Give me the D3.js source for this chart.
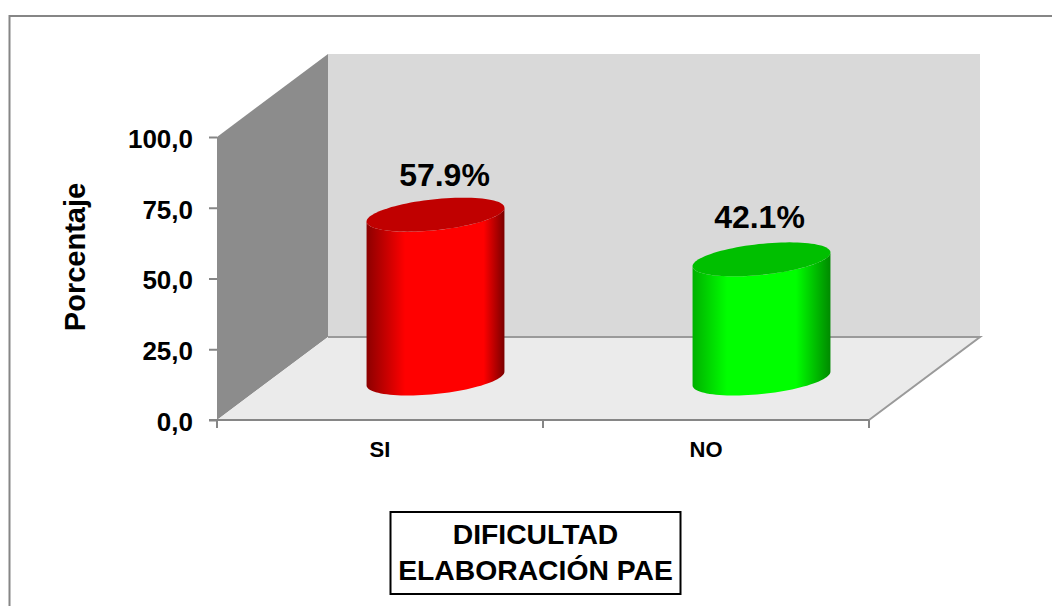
<!DOCTYPE html>
<html>
<head>
<meta charset="utf-8">
<title>Dificultad elaboración PAE</title>
<script src="https://d3js.org/d3.v7.min.js"></script>
<style>
	body { margin: 0; background: #fff; }
	text { font-family: "Liberation Sans", Arial, sans-serif; font-weight: bold; fill: #000; }
</style>
</head>
<body>
<svg id="chart" width="1052" height="606"></svg>
<script>
var categories = ["SI", "NO"];
var percentages = [57.9, 42.1];
var valueLabels = ["57.9%", "42.1%"];
var yTicks = [0, 25, 50, 75, 100];
var titleLines = ["DIFICULTAD", "ELABORACIÓN PAE"];

var svg = d3.select("#chart");

// plot box, front plane plus the 3d depth offset
var plotLeft = 217, plotRight = 869, plotTop = 137, plotBottom = 420;
var depthX = 111, depthY = 83;

var barColors = [
	{ edgeL: "#8c0000", stopL: 0.28, mid: "#ff0000", stopR: 0.85, edgeR: "#7a0000", cap: "#c00000" },
	{ edgeL: "#00b000", stopL: 0.25, mid: "#00ff00", stopR: 0.75, edgeR: "#008a00", cap: "#00bf00" }
];
// the data labels were placed by hand in the original, not centred on the bars
var labelShift = [[9, -29], [-2, -31]];

var x = d3.scaleBand().domain(categories).range([plotLeft, plotRight]);
var y = d3.scaleLinear().domain([0, 100]).range([plotBottom, plotTop]);
var line = d3.line();

// outer frame
svg.append("path")
	.attr("d", "M9.5,606V16H1052")
	.attr("fill", "none")
	.attr("stroke", "#868686")
	.attr("stroke-width", 2);

// walls and floor
svg.append("path")
	.attr("d", line([[plotLeft + depthX, plotTop - depthY], [plotRight + depthX, plotTop - depthY], [plotRight + depthX, plotBottom - depthY], [plotLeft + depthX, plotBottom - depthY]]) + "Z")
	.attr("fill", "#d9d9d9");
svg.append("path")
	.attr("d", line([[plotLeft, plotTop], [plotLeft + depthX, plotTop - depthY], [plotLeft + depthX, plotBottom - depthY], [plotLeft, plotBottom]]) + "Z")
	.attr("fill", "#8c8c8c");
svg.append("path")
	.attr("d", line([[plotLeft, plotBottom], [plotLeft + depthX, plotBottom - depthY], [plotRight + depthX, plotBottom - depthY], [plotRight, plotBottom]]) + "Z")
	.attr("fill", "#ebebeb");
svg.append("path")
	.attr("d", line([[plotLeft + depthX, plotBottom - depthY], [plotRight + depthX, plotBottom - depthY], [plotRight, plotBottom]]))
	.attr("fill", "none")
	.attr("stroke", "#9a9a9a")
	.attr("stroke-width", 2);

// axes
var yAxis = svg.append("g")
	.attr("transform", "translate(" + plotLeft + ",0)")
	.call(d3.axisLeft(y).tickValues(yTicks).tickSize(8).tickPadding(16).tickFormat(function(d) {
		return d3.format(".1f")(d).replace(".", ",");
	}));
var xAxis = svg.append("g")
	.attr("transform", "translate(0," + plotBottom + ")")
	.call(d3.axisBottom(x).tickSize(0).tickPadding(21));

xAxis.selectAll(".tick line").remove();
xAxis.selectAll(".tick-edge")
	.data(d3.range(categories.length + 1))
	.enter().append("line")
	.attr("x1", function(i) { return plotLeft + i * x.step(); })
	.attr("x2", function(i) { return plotLeft + i * x.step(); })
	.attr("y1", 0)
	.attr("y2", 8)
	.attr("stroke", "#868686")
	.attr("stroke-width", 2);

yAxis.select(".domain").attr("stroke", "#8c8c8c").attr("stroke-width", 1);
yAxis.selectAll(".tick line").attr("stroke", "#868686").attr("stroke-width", 2);
xAxis.select(".domain").attr("d", "M" + (plotLeft - 8) + ",0H" + plotRight).attr("stroke", "#868686").attr("stroke-width", 2);
yAxis.attr("font-family", null);
xAxis.attr("font-family", null);
yAxis.selectAll("text").attr("y", 2).style("font-size", "26px");
xAxis.selectAll("text").style("font-size", "22px");

// cylinders: a circle on the floor seen in oblique projection
var rx = 63, kx = 28, ky = 17;
var tangent = Math.atan2(kx, rx);

function ringPoint(cx, cy, t) {
	return [cx + rx * Math.cos(t) + kx * Math.sin(t), cy - ky * Math.sin(t)];
}

var defs = svg.append("defs");
barColors.forEach(function(c, i) {
	var g = defs.append("linearGradient").attr("id", "body" + i);
	g.append("stop").attr("offset", 0).attr("stop-color", c.edgeL);
	g.append("stop").attr("offset", c.stopL).attr("stop-color", c.mid);
	g.append("stop").attr("offset", c.stopR).attr("stop-color", c.mid);
	g.append("stop").attr("offset", 1).attr("stop-color", c.edgeR);
});

var bars = svg.selectAll(".bar")
	.data(percentages)
	.enter().append("g")
	.attr("class", "bar");

bars.append("path")
	.attr("fill", function(d, i) { return "url(#body" + i + ")"; })
	.attr("d", function(d, i) {
		var cx = x(categories[i]) + x.bandwidth() / 2 + depthX / 2;
		var cyBase = plotBottom - depthY / 2;
		var cyTop = y(d) - depthY / 2;
		var pts = d3.range(0, 49).map(function(k) {
			return ringPoint(cx, cyBase, tangent + Math.PI + k / 48 * Math.PI);
		});
		var upper = d3.range(48, -1, -1).map(function(k) {
			return ringPoint(cx, cyTop, tangent + Math.PI + k / 48 * Math.PI);
		});
		return line(pts.concat(upper)) + "Z";
	});

bars.append("path")
	.attr("fill", function(d, i) { return barColors[i].cap; })
	.attr("d", function(d, i) {
		var cx = x(categories[i]) + x.bandwidth() / 2 + depthX / 2;
		var cyTop = y(d) - depthY / 2;
		return line(d3.range(0, 96).map(function(k) {
			return ringPoint(cx, cyTop, k / 96 * 2 * Math.PI);
		})) + "Z";
	});

bars.append("text")
	.attr("x", function(d, i) { return x(categories[i]) + x.bandwidth() / 2 + depthX / 2 + labelShift[i][0]; })
	.attr("y", function(d, i) { return y(d) - depthY / 2 + labelShift[i][1]; })
	.attr("text-anchor", "middle")
	.style("font-size", "32px")
	.text(function(d, i) { return valueLabels[i]; });

// y title
svg.append("text")
	.attr("transform", "translate(85,257) rotate(-90)")
	.attr("text-anchor", "middle")
	.style("font-size", "29px")
	.text("Porcentaje");

// category title box
svg.append("rect")
	.attr("x", 390.5)
	.attr("y", 512)
	.attr("width", 290)
	.attr("height", 82)
	.attr("fill", "#fff")
	.attr("stroke", "#000")
	.attr("stroke-width", 2);

svg.selectAll(".box-title")
	.data(titleLines)
	.enter().append("text")
	.attr("class", "box-title")
	.attr("x", 535.5)
	.attr("y", function(d, i) { return 544 + i * 36; })
	.attr("text-anchor", "middle")
	.style("font-size", "28.3px")
	.text(function(d) { return d; });
</script>
</body>
</html>
